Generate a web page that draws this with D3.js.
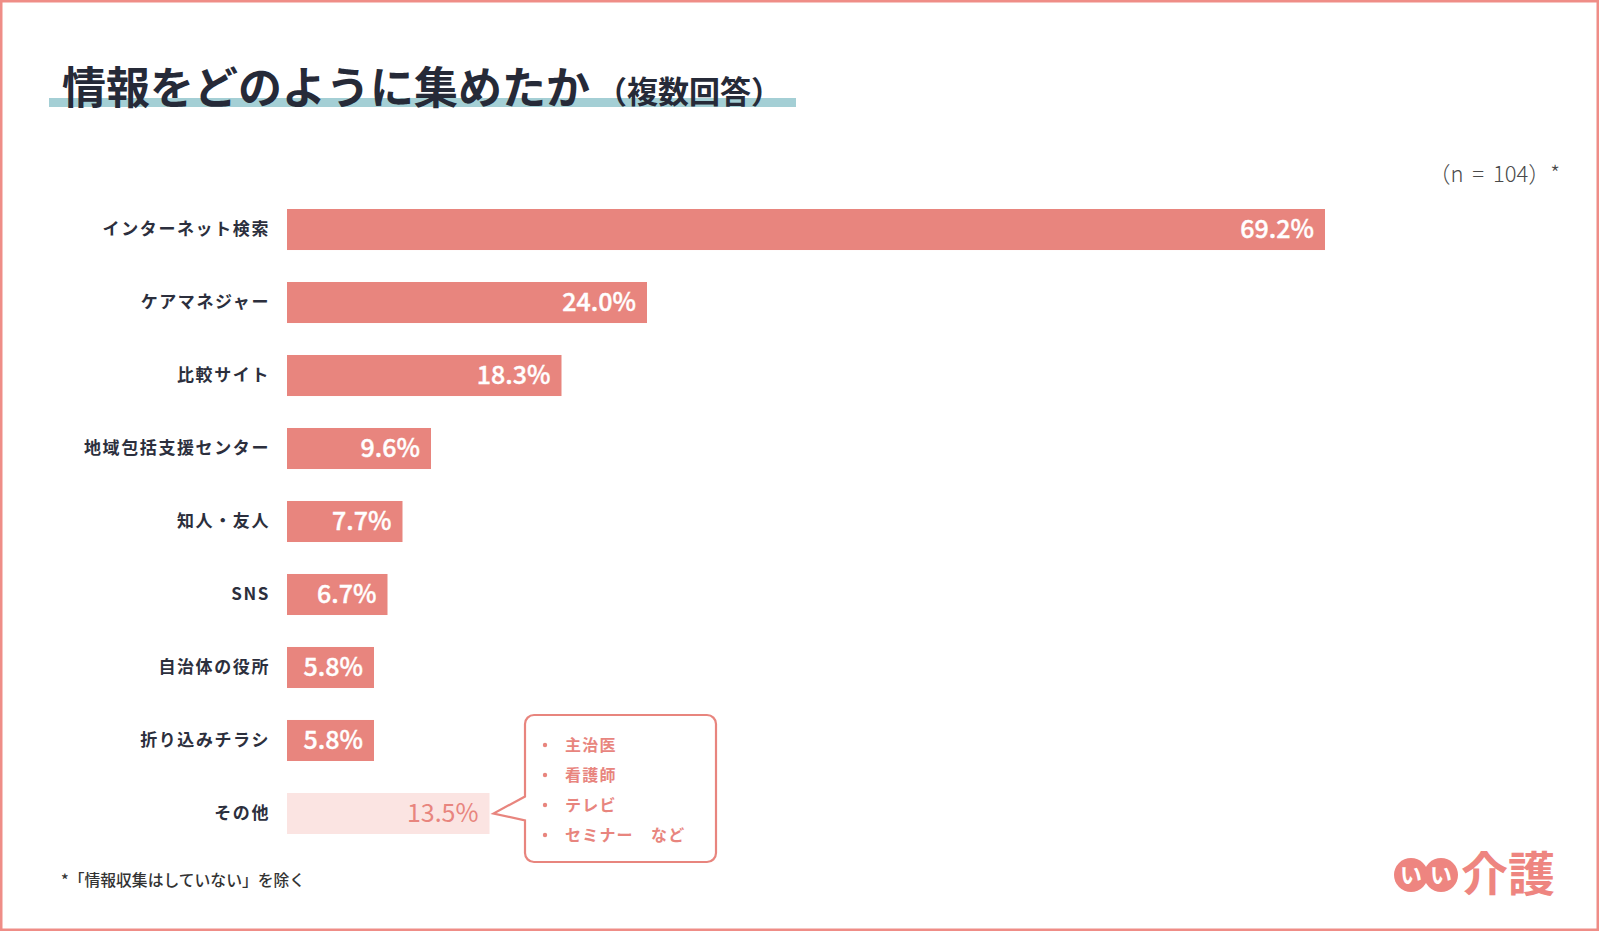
<!DOCTYPE html>
<html>
<head>
<meta charset="utf-8">
<script src="https://cdn.jsdelivr.net/npm/d3@7"></script>
<style>
  html, body { margin: 0; padding: 0; background: #fff; }
  svg { display: block; font-family: "Noto Sans CJK JP", "Noto Sans", sans-serif; }
</style>
</head>
<body>
<svg id="chart"></svg>
<script>
let categories = ['インターネット検索', 'ケアマネジャー', '比較サイト', '地域包括支援センター', '知人・友人', 'SNS', '自治体の役所', '折り込みチラシ', 'その他']
let values = [69.2, 24.0, 18.3, 9.6, 7.7, 6.7, 5.8, 5.8, 13.5]
let otherItems = ['主治医', '看護師', 'テレビ', 'セミナー　など']

let width = 1604
let height = 935

let pink = '#e8857e'
let palePink = '#fbe4e2'
let textDark = '#2c2f3d'

let svg = d3.select('#chart')
    .attr('width', width)
    .attr('height', height)

// frame
svg.append('rect')
    .attr('x', 1.25).attr('y', 1.25)
    .attr('width', 1596.5).attr('height', 928.5)
    .attr('fill', '#fff')
    .attr('stroke', '#ef8d87')
    .attr('stroke-width', 2.5)

// title
svg.append('rect')
    .attr('x', 49).attr('y', 98)
    .attr('width', 747).attr('height', 9)
    .attr('fill', '#a4cfd5')

svg.append('text')
    .attr('x', 62).attr('y', 104)
    .attr('font-size', 44)
    .attr('font-weight', 700)
    .attr('fill', '#262a38')
    .text('情報をどのように集めたか')

svg.append('text')
    .attr('x', 596).attr('y', 103)
    .attr('font-size', 31)
    .attr('font-weight', 700)
    .attr('fill', '#262a38')
    .text('（複数回答）')

svg.append('text')
    .attr('x', 1560).attr('y', 182)
    .attr('text-anchor', 'end')
    .attr('font-size', 22)
    .attr('font-weight', 300)
    .attr('word-spacing', 4)
    .attr('fill', '#4a4a4a')
    .text('（n = 104）*')

// scales
let x = d3.scaleLinear()
    .domain([0, 100])
    .range([287, 1787])

let y = d3.scaleBand()
    .domain(categories)
    .range([209, 834])
    .paddingInner(0.438)
    .paddingOuter(0)

let isOther = (d) => d === 'その他'

let rows = categories.map((c, i) => ({ cat: c, val: values[i] }))

svg.selectAll('rect.bar')
    .data(rows)
    .enter()
    .append('rect')
    .attr('class', 'bar')
    .attr('x', x(0))
    .attr('y', (d) => y(d.cat))
    .attr('width', (d) => x(d.val) - x(0))
    .attr('height', y.bandwidth())
    .attr('fill', (d) => isOther(d.cat) ? palePink : pink)

svg.selectAll('text.val')
    .data(rows)
    .enter()
    .append('text')
    .attr('class', 'val')
    .attr('x', (d) => x(d.val) - 11)
    .attr('y', (d) => y(d.cat) + y.bandwidth() / 2)
    .attr('dy', '0.35em')
    .attr('text-anchor', 'end')
    .attr('font-size', 25)
    .attr('font-weight', (d) => isOther(d.cat) ? 400 : 500)
    .attr('stroke', (d) => isOther(d.cat) ? 'none' : '#fff')
    .attr('stroke-width', 0.4)
    .attr('fill', (d) => isOther(d.cat) ? pink : '#fff')
    .text((d) => d.val.toFixed(1) + '%')

svg.selectAll('text.cat')
    .data(rows)
    .enter()
    .append('text')
    .attr('class', 'cat')
    .attr('x', 270)
    .attr('y', (d) => y(d.cat) + y.bandwidth() / 2)
    .attr('dy', '0.35em')
    .attr('text-anchor', 'end')
    .attr('font-size', 17)
    .attr('font-weight', 700)
    .attr('letter-spacing', 1.6)
    .attr('fill', textDark)
    .text((d) => d.cat)

// callout for その他
let last = categories[categories.length - 1]
let tipX = x(values[values.length - 1]) + 4
let tipY = y(last) + y.bandwidth() / 2
let bx0 = 525, bx1 = 716, by0 = 715, by1 = 862, r = 9

let p = d3.path()
p.moveTo(bx0 + r, by0)
p.lineTo(bx1 - r, by0)
p.arcTo(bx1, by0, bx1, by0 + r, r)
p.lineTo(bx1, by1 - r)
p.arcTo(bx1, by1, bx1 - r, by1, r)
p.lineTo(bx0 + r, by1)
p.arcTo(bx0, by1, bx0, by1 - r, r)
p.lineTo(bx0, tipY + 7)
p.lineTo(tipX, tipY)
p.lineTo(bx0, tipY - 17)
p.lineTo(bx0, by0 + r)
p.arcTo(bx0, by0, bx0 + r, by0, r)
p.closePath()

svg.append('path')
    .attr('d', p.toString())
    .attr('fill', '#fff')
    .attr('stroke', pink)
    .attr('stroke-width', 2.2)

let itemY = d3.scalePoint()
    .domain(otherItems)
    .range([745, 835])

let items = svg.selectAll('g.item')
    .data(otherItems)
    .enter()
    .append('g')
    .attr('class', 'item')
    .attr('transform', (d) => `translate(0,${itemY(d)})`)

items.append('circle')
    .attr('cx', 545).attr('cy', 0)
    .attr('r', 2.2)
    .attr('fill', pink)

items.append('text')
    .attr('x', 565)
    .attr('dy', '0.35em')
    .attr('font-size', 16)
    .attr('font-weight', 700)
    .attr('letter-spacing', 1.2)
    .attr('fill', pink)
    .text((d) => d)

// footnote
svg.append('text')
    .attr('x', 61).attr('y', 886)
    .attr('font-size', 15.8)
    .attr('font-weight', 500)
    .attr('fill', '#333')
    .text('*「情報収集はしていない」を除く')

// logo
let logo = svg.append('g')
logo.selectAll('circle')
    .data([1411, 1441])
    .enter()
    .append('circle')
    .attr('cx', (d) => d)
    .attr('cy', 875)
    .attr('r', 17)
    .attr('fill', '#ee8580')
logo.selectAll('text.ii')
    .data([1411, 1441])
    .enter()
    .append('text')
    .attr('class', 'ii')
    .attr('x', (d) => d)
    .attr('y', 875)
    .attr('dy', '0.36em')
    .attr('text-anchor', 'middle')
    .attr('font-size', 22)
    .attr('font-weight', 700)
    .attr('fill', '#fff')
    .text('い')
logo.append('text')
    .attr('x', 1461).attr('y', 891)
    .attr('font-size', 47)
    .attr('font-weight', 700)
    .attr('fill', '#ee8580')
    .text('介護')
</script>
</body>
</html>
